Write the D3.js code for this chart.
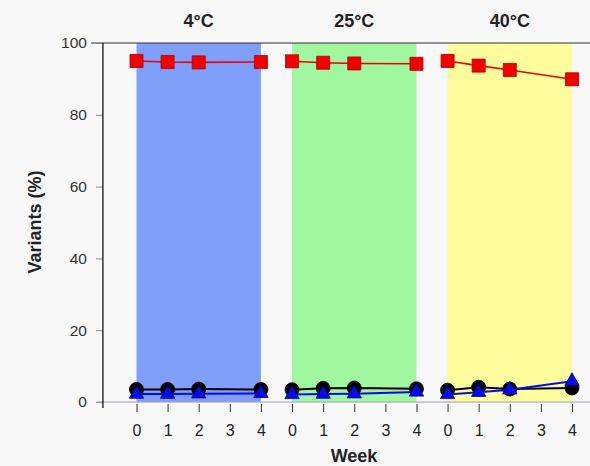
<!DOCTYPE html>
<html>
<head>
<meta charset="utf-8">
<script src="https://cdn.jsdelivr.net/npm/d3@7"></script>
<style>
  body { margin: 0; background: #f8f8f8; }
  svg { display: block; font-family: "Liberation Sans", Arial, sans-serif; }
</style>
</head>
<body>
<svg id="chart" width="590" height="466"></svg>
<script>
// chart data
const temps = ["4°C", "25°C", "40°C"];
const weeks = [0, 1, 2, 4];
const tickWeeks = [0, 1, 2, 3, 4];
const yTicks = [0, 20, 40, 60, 80, 100];
const bandColors = ["#809ffa", "#a0f7a0", "#fdfd9e"];

// one row per temperature, values at weeks 0,1,2,4
const redSeries = [
  [95.0, 94.7, 94.6, 94.7],
  [94.9, 94.5, 94.3, 94.2],
  [95.0, 93.7, 92.5, 89.9]
];
const blackSeries = [
  [3.5, 3.5, 3.6, 3.5],
  [3.4, 3.8, 3.9, 3.7],
  [3.3, 4.1, 3.6, 3.9]
];
const blueSeries = [
  [2.2, 2.2, 2.3, 2.4],
  [2.1, 2.2, 2.3, 2.8],
  [2.1, 2.7, 3.4, 5.8]
];

const svg = d3.select("#chart");
const groupSpan = 5; // 4 weeks + gap slot

// continuous index: group*5 + week
const x = d3.scaleLinear().domain([0, 14]).range([136.5, 572]);
const y = d3.scaleLinear().domain([0, 100]).range([402, 43]);
const axisX = x(-1.08);
const idx = (g, w) => g * groupSpan + w;

// shaded bands
svg.selectAll(".band")
  .data(temps)
  .enter().append("rect")
  .attr("x", (d, i) => x(idx(i, 0)))
  .attr("width", (d, i) => x(idx(i, 4)) - x(idx(i, 0)))
  .attr("y", y(100))
  .attr("height", y(0) - y(100))
  .style("fill", (d, i) => bandColors[i]);

// top border + zero line
svg.append("line")
  .attr("x1", axisX - 12).attr("x2", 590)
  .attr("y1", y(100)).attr("y2", y(100))
  .style("stroke", "#333").style("stroke-width", 1.2);
svg.append("line")
  .attr("x1", axisX - 6).attr("x2", 590)
  .attr("y1", y(0)).attr("y2", y(0))
  .style("stroke", "#9aa0b0").style("stroke-width", 1);

// y axis
const yAxis = svg.append("g")
  .attr("transform", "translate(" + axisX + ",0)")
  .call(d3.axisLeft(y).tickValues(yTicks).tickSize(7).tickPadding(9));
yAxis.select(".domain").remove();
yAxis.append("line")
  .attr("x1", 0).attr("x2", 0)
  .attr("y1", y(100)).attr("y2", y(0) + 6)
  .style("stroke", "#111").style("stroke-width", 1.3);
yAxis.selectAll(".tick line").style("stroke", "#888");
yAxis.selectAll(".tick text")
  .style("font-size", "15.5px").style("fill", "#333")
  .style("font-family", "'Liberation Sans', Arial, sans-serif");

// x axis: week ticks per group
const xTickVals = [];
const xTickLabels = {};
temps.forEach((t, g) => tickWeeks.forEach(w => {
  xTickVals.push(idx(g, w));
  xTickLabels[idx(g, w)] = w;
}));
const xAxis = svg.append("g")
  .attr("transform", "translate(0," + (y(0) + 2) + ")")
  .call(d3.axisBottom(x).tickValues(xTickVals)
    .tickFormat(d => xTickLabels[d]).tickSize(8).tickPadding(13));
xAxis.select(".domain").remove();
xAxis.selectAll(".tick line").style("stroke", "#333");
xAxis.selectAll(".tick text")
  .style("font-size", "16px").style("fill", "#222")
  .style("font-family", "'Liberation Sans', Arial, sans-serif");

// axis titles
svg.append("text")
  .attr("x", 354).attr("y", 462)
  .attr("text-anchor", "middle")
  .style("font-size", "18px").style("font-weight", "bold").style("fill", "#222")
  .text("Week");
svg.append("text")
  .attr("transform", "translate(41,222) rotate(-90)")
  .attr("text-anchor", "middle")
  .style("font-size", "18px").style("font-weight", "bold").style("fill", "#222")
  .text("Variants (%)");

// temperature headers
svg.selectAll(".temp")
  .data(temps)
  .enter().append("text")
  .attr("x", (d, i) => x(idx(i, 2)))
  .attr("y", 27)
  .attr("text-anchor", "middle")
  .style("font-size", "18px").style("font-weight", "bold").style("fill", "#222")
  .text(d => d);

// series drawing
const line = d3.line().x(d => x(d.i)).y(d => y(d.v));
function points(series) {
  return series.map((row, g) => row.map((v, k) => ({ i: idx(g, weeks[k]), v: v })));
}

function drawSeries(series, color, lineWidth, symbol, size, stroke) {
  const pts = points(series);
  svg.append("g").selectAll("path")
    .data(pts)
    .enter().append("path")
    .attr("d", line)
    .style("fill", "none")
    .style("stroke", color)
    .style("stroke-width", lineWidth);
  svg.append("g").selectAll("path")
    .data(pts.flat())
    .enter().append("path")
    .attr("transform", d => "translate(" + x(d.i) + "," + y(d.v) + ")")
    .attr("d", d3.symbol().type(symbol).size(size))
    .style("fill", color)
    .style("stroke", stroke)
    .style("stroke-width", 0.8);
}

drawSeries(redSeries, "#f00000", 1.6, d3.symbolSquare, 170, "#b00000");
drawSeries(blackSeries, "#000000", 2, d3.symbolCircle, 155, "#000");
drawSeries(blueSeries, "#0a0ae6", 2, d3.symbolTriangle, 90, "#000080");
</script>
</body>
</html>
